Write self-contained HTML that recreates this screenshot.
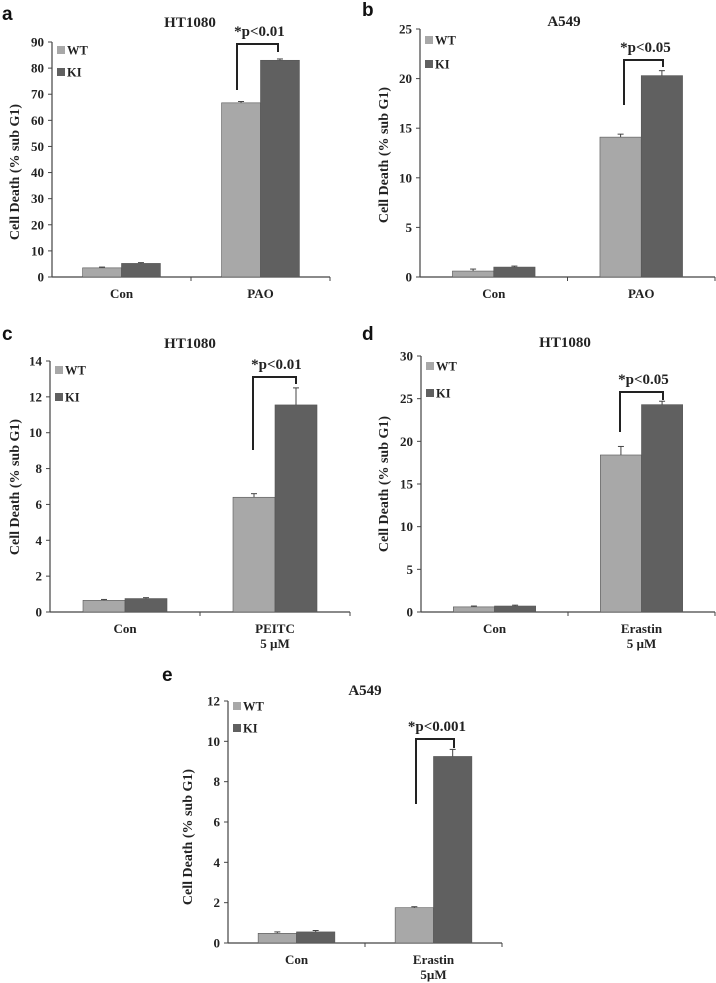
<!DOCTYPE html>
<html><head><meta charset="utf-8"><style>
html,body{margin:0;padding:0;background:#fff;}
svg{display:block;font-family:"Liberation Serif",serif;font-weight:bold;}
</style></head><body>
<svg id="fig" width="716" height="983" viewBox="0 0 716 983" xmlns="http://www.w3.org/2000/svg"></svg>
<script>
const categoriesA = ["Con","PAO"];
const wtA = [3.5, 66.7], kiA = [5.2, 83.0], wtErrA = [0.3, 0.5], kiErrA = [0.3, 0.5];
const ticksA = [0,10,20,30,40,50,60,70,80,90];
const categoriesB = ["Con","PAO"];
const wtB = [0.6, 14.1], kiB = [1.0, 20.3], wtErrB = [0.2, 0.3], kiErrB = [0.1, 0.5];
const ticksB = [0,5,10,15,20,25];
const categoriesC = ["Con","PEITC|5 µM"];
const wtC = [0.65, 6.4], kiC = [0.75, 11.55], wtErrC = [0.05, 0.2], kiErrC = [0.05, 0.95];
const ticksC = [0,2,4,6,8,10,12,14];
const categoriesD = ["Con","Erastin|5 µM"];
const wtD = [0.6, 18.4], kiD = [0.7, 24.3], wtErrD = [0.1, 1.0], kiErrD = [0.1, 0.4];
const ticksD = [0,5,10,15,20,25,30];
const categoriesE = ["Con","Erastin|5µM"];
const wtE = [0.48, 1.75], kiE = [0.55, 9.25], wtErrE = [0.07, 0.05], kiErrE = [0.07, 0.35];
const ticksE = [0,2,4,6,8,10,12];

const NS="http://www.w3.org/2000/svg";
const svg=document.getElementById('fig');
function mk(tag,attrs,parent,text){const e=document.createElementNS(NS,tag);for(const k in attrs)e.setAttribute(k,attrs[k]);if(text!==undefined)e.textContent=text;(parent||svg).appendChild(e);return e;}

function panel(p){
  const g=mk('g',{});
  
  
  const max=p.ticks[p.ticks.length-1];
  const y=v=>p.y0-(v/max)*(p.y0-p.yTop);
  const w=p.x1-p.x0, bw=w*0.14;
  const cx=i=>p.x0+w*(0.25+0.5*i);
  let t=mk('text',{x:p.lx,y:p.ly,'font-family':'Liberation Sans,sans-serif','font-size':19,fill:'#111'},g,p.id);
   
  t=mk('text',{x:p.tx,y:p.ty,'text-anchor':'middle','font-size':15,fill:'#222'},g,p.title);
   
  let ax=mk('line',{x1:p.x0,y1:p.yTop,x2:p.x0,y2:p.y0,stroke:'#444','stroke-width':1.2},g);
   
  ax=mk('line',{x1:p.x0,y1:p.y0,x2:p.x1,y2:p.y0,stroke:'#444','stroke-width':1.2},g);
   
  [p.x0+w/2,p.x1].forEach(x=>mk('line',{x1:x,y1:p.y0,x2:x,y2:p.y0+4,stroke:'#444'},g));
  p.ticks.forEach(v=>{
    mk('line',{x1:p.x0-4,y1:y(v),x2:p.x0,y2:y(v),stroke:'#444'},g);
    const tl=mk('text',{x:p.x0-8,y:y(v)+4.5,'text-anchor':'end','font-size':13,fill:'#222'},g,String(v));
     
  });
  const yt=mk('text',{x:0,y:0,'text-anchor':'middle','font-size':14,fill:'#222',transform:`translate(${p.ytx},${p.yty}) rotate(-90)`},g,'Cell Death (% sub G1)');
   
  p.cats.forEach((c,i)=>{
    const lines=c.split('|');
    lines.forEach((l,j)=>{
      const xl=mk('text',{x:cx(i),y:p.y0+21+j*15,'text-anchor':'middle','font-size':13,fill:'#222'},g,l);
       
    });
    [[p.wt,p.wtE,'#a8a8a8',-1,'wt'],[p.ki,p.kiE,'#606060',0,'ki']].forEach(s=>{
      const v=s[0][i], e=s[1][i], x=cx(i)+s[3]*bw;
      const r=mk('rect',{x:x,y:y(v),width:bw,height:p.y0-y(v),fill:s[2],stroke:'#555','stroke-width':0.6},g);
       
      const ex=x+bw/2;
      mk('line',{x1:ex,y1:y(v),x2:ex,y2:y(v+e),stroke:'#444','stroke-width':1},g);
      mk('line',{x1:ex-3,y1:y(v+e),x2:ex+3,y2:y(v+e),stroke:'#444','stroke-width':1},g);
    });
  });
  [['WT','#a8a8a8',p.lg1],['KI','#606060',p.lg2]].forEach(l=>{
    const lr=mk('rect',{x:p.x0+5,y:l[2]-4,width:8,height:8,fill:l[1]},g);
     
    const lt=mk('text',{x:p.x0+15,y:l[2]+4.5,'font-size':12.5,fill:'#222'},g,l[0]);
     
  });
  const b=p.br;
  const pb=mk('path',{d:`M${b.l},${b.ly} V${b.top} H${b.r} V${b.ry}`,fill:'none',stroke:'#222','stroke-width':2},g);
   
  const pt=mk('text',{x:(b.l+b.r)/2+2,y:b.top-8,'text-anchor':'middle','font-size':15,fill:'#222'},g,b.text);
   
}

panel({id:'a',title:'HT1080',cats:categoriesA,wt:wtA,ki:kiA,wtE:wtErrA,kiE:kiErrA,ticks:ticksA,
  x0:52,x1:330,y0:277,yTop:42,lx:2,ly:20,tx:190,ty:27,ytx:19,yty:172,lg1:50,lg2:72,
  br:{l:237,r:278,top:44,ly:90,ry:52,text:'*p<0.01'}});
panel({id:'b',title:'A549',cats:categoriesB,wt:wtB,ki:kiB,wtE:wtErrB,kiE:kiErrB,ticks:ticksB,
  x0:420,x1:715,y0:277,yTop:29,lx:362,ly:16,tx:564,ty:26,ytx:388,yty:155,lg1:40,lg2:64,
  br:{l:624,r:663,top:60,ly:105,ry:67,text:'*p<0.05'}});
panel({id:'c',title:'HT1080',cats:categoriesC,wt:wtC,ki:kiC,wtE:wtErrC,kiE:kiErrC,ticks:ticksC,
  x0:50,x1:350,y0:612,yTop:361,lx:2,ly:340,tx:190,ty:348,ytx:19,yty:487,lg1:370,lg2:397,
  br:{l:253,r:296,top:377,ly:450,ry:384,text:'*p<0.01'}});
panel({id:'d',title:'HT1080',cats:categoriesD,wt:wtD,ki:kiD,wtE:wtErrD,kiE:kiErrD,ticks:ticksD,
  x0:421,x1:715,y0:612,yTop:356,lx:362,ly:340,tx:565,ty:347,ytx:388,yty:484,lg1:366,lg2:393,
  br:{l:620,r:663,top:392,ly:432,ry:400,text:'*p<0.05'}});
panel({id:'e',title:'A549',cats:categoriesE,wt:wtE,ki:kiE,wtE:wtErrE,kiE:kiErrE,ticks:ticksE,
  x0:228,x1:502,y0:943,yTop:701,lx:162,ly:681,tx:365,ty:695,ytx:192,yty:837,lg1:706,lg2:728,
  br:{l:416,r:454,top:739,ly:804,ry:748,text:'*p<0.001'}});
</script>
</body></html>
